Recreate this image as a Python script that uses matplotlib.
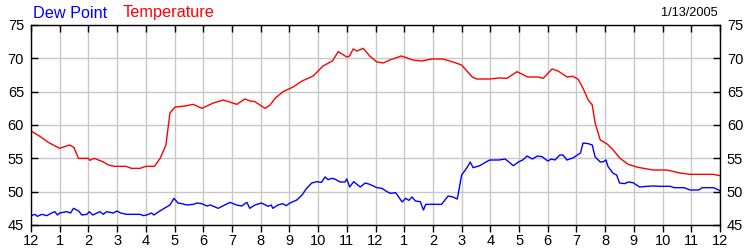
import matplotlib
matplotlib.use("Agg")
import matplotlib.pyplot as plt

# Hours since midnight (1/13/2005)
temp_hours = [0, 0.31, 0.6, 1.0, 1.2, 1.35, 1.5, 1.65, 2.0, 2.05, 2.2, 2.5, 2.7, 2.9, 3.3, 3.5, 3.8, 4.0, 4.3,
              4.5, 4.7, 4.84, 5.02, 5.37, 5.65, 5.95, 6.35, 6.7, 7.17, 7.45, 7.63, 7.8, 8.15, 8.33, 8.5,
              8.78, 9.13, 9.44, 9.83, 10.17, 10.5, 10.7, 11.0, 11.1, 11.22, 11.36, 11.57, 11.8, 12.05,
              12.27, 12.5, 12.9, 13.3, 13.6, 13.97, 14.35, 14.7, 15.0, 15.37, 15.53, 15.98, 16.3, 16.58,
              16.93, 17.3, 17.67, 17.84, 18.15, 18.36, 18.67, 18.88, 19.06, 19.23, 19.41, 19.55, 19.65,
              19.83, 20.07, 20.28, 20.52, 20.8, 21.1, 21.33, 21.67, 22.15, 22.6, 22.96, 23.76, 24.0]
temp_values = [59.1, 58.3, 57.4, 56.5, 56.8, 57.0, 56.6, 55.0, 55.0, 54.7, 55.0, 54.5, 54.0, 53.8, 53.8, 53.5,
               53.5, 53.8, 53.8, 55.0, 57.0, 61.8, 62.7, 62.85, 63.1, 62.5, 63.3, 63.75, 63.1, 63.9, 63.6,
               63.5, 62.5, 63.0, 64.0, 65.0, 65.7, 66.6, 67.35, 68.85, 69.6, 71.0, 70.2, 70.35, 71.4, 71.1,
               71.5, 70.35, 69.45, 69.3, 69.75, 70.35, 69.75, 69.6, 69.9, 69.9, 69.45, 69.0, 67.2, 66.9,
               66.9, 67.05, 67.0, 68.0, 67.2, 67.2, 67.0, 68.4, 68.1, 67.2, 67.3, 66.85, 65.5, 63.75, 63.0,
               60.3, 57.75, 57.15, 56.25, 55.0, 54.1, 53.7, 53.5, 53.25, 53.25, 52.8, 52.6, 52.6, 52.4]

dew_hours = [0, 0.14, 0.22, 0.38, 0.55, 0.72, 0.83, 0.92, 1.0, 1.24, 1.38, 1.48, 1.66, 1.77, 1.95, 2.03, 2.15,
             2.4, 2.52, 2.63, 2.87, 3.0, 3.12, 3.33, 3.8, 3.92, 4.03, 4.2, 4.28, 4.49, 4.66, 4.84, 4.98,
             5.12, 5.25, 5.43, 5.66, 5.78, 5.95, 6.13, 6.24, 6.36, 6.52, 6.7, 6.93, 7.16, 7.34, 7.52, 7.62,
             7.8, 8.03, 8.26, 8.37, 8.42, 8.6, 8.77, 8.89, 9.02, 9.26, 9.44, 9.6, 9.78, 9.95, 10.12, 10.24,
             10.35, 10.47, 10.58, 10.77, 10.94, 11.0, 11.1, 11.24, 11.47, 11.64, 11.8, 12.05, 12.22, 12.4,
             12.52, 12.7, 12.93, 13.05, 13.16, 13.27, 13.39, 13.56, 13.67, 13.75, 14.3, 14.53, 14.7,
             14.85, 15.0, 15.18, 15.3, 15.4, 15.63, 15.87, 15.98, 16.3, 16.52, 16.8, 17.0, 17.13, 17.28,
             17.47, 17.64, 17.8, 18.0, 18.13, 18.25, 18.42, 18.53, 18.67, 18.9, 19.03, 19.14, 19.23,
             19.41, 19.55, 19.65, 19.83, 19.94, 20.03, 20.1, 20.28, 20.4, 20.5, 20.68, 20.8, 20.97, 21.2,
             21.45, 21.67, 21.9, 22.27, 22.4, 22.75, 22.96, 23.26, 23.38, 23.78, 23.95, 24.0]
dew_values = [46.4, 46.6, 46.3, 46.6, 46.4, 46.8, 47.0, 46.5, 46.8, 47.0, 46.8, 47.5, 47.1, 46.5, 46.6, 47.0,
              46.5, 47.0, 46.6, 47.0, 46.8, 47.1, 46.8, 46.6, 46.6, 46.4, 46.5, 46.8, 46.5, 47.1, 47.55,
              48.0, 49.0, 48.3, 48.2, 48.0, 48.1, 48.3, 48.2, 47.85, 48.0, 47.8, 47.5, 47.9, 48.4, 48.0,
              47.85, 48.4, 47.5, 48.0, 48.3, 47.8, 48.0, 47.5, 48.0, 48.2, 47.9, 48.3, 48.75, 49.5, 50.5,
              51.3, 51.5, 51.4, 52.2, 51.8, 52.0, 51.9, 51.45, 51.45, 51.9, 50.7, 51.5, 50.7, 51.3, 51.1,
              50.6, 50.5, 50.0, 49.75, 49.85, 48.45, 49.0, 48.7, 49.2, 48.6, 48.5, 47.25, 48.1, 48.1,
              49.35, 49.2, 48.9, 52.5, 53.55, 54.45, 53.6, 53.9, 54.5, 54.75, 54.75, 54.9, 53.9, 54.5,
              54.75, 55.35, 54.9, 55.35, 55.25, 54.6, 54.9, 54.75, 55.5, 55.5, 54.75, 55.1, 55.5, 55.8,
              57.3, 57.2, 57.0, 55.2, 54.45, 54.5, 54.75, 53.75, 52.75, 52.5, 51.3, 51.2, 51.45, 51.35,
              50.7, 50.8, 50.85, 50.8, 50.8, 50.6, 50.6, 50.25, 50.25, 50.6, 50.6, 50.25, 50.1]

hour_labels = ["12", "1", "2", "3", "4", "5", "6", "7", "8", "9", "10", "11",
               "12", "1", "2", "3", "4", "5", "6", "7", "8", "9", "10", "11", "12"]
y_ticks = [45, 50, 55, 60, 65, 70, 75]

plt.rcParams['font.family'] = ['Liberation Sans', 'DejaVu Sans']

fig = plt.figure(figsize=(7.5, 2.5), dpi=100)
ax = fig.add_axes([31 / 750, 25 / 250, (720 - 31) / 750, 200 / 250])

ax.plot(temp_hours, temp_values, color='#ff0000', lw=1.0)
ax.plot(dew_hours, dew_values, color='#0000ff', lw=1.0)

ax.set_xlim(0, 24)
ax.set_ylim(45, 75)
ax.set_xticks(range(25))
ax.set_xticklabels(hour_labels)
ax.set_yticks(y_ticks)
ax.grid(True, color='#c8c8c8', lw=1.0)
ax.set_axisbelow(True)
for s in ax.spines.values():
    s.set_color('black')
    s.set_linewidth(1.0)

ax.tick_params(axis='x', bottom=True, top=False, direction='out', length=5, width=1,
               labelsize=10.5, pad=1.5, colors='black')
ax.tick_params(axis='y', left=True, right=True, labelleft=True, labelright=True,
               direction='in', length=5, width=1, labelsize=10.5, pad=5)

# inward ticks along the top edge
ax_top = ax.twiny()
ax_top.set_xlim(ax.get_xlim())
ax_top.set_xticks(range(25))
ax_top.tick_params(axis='x', top=True, bottom=False, labeltop=False, labelbottom=False,
                   direction='in', length=5, width=1, color='black')
for s in ax_top.spines.values():
    s.set_visible(False)

fig.text(33 / 750, 1 - 13 / 250, "Dew Point", color='#0000ff', fontsize=11.7, va='center', ha='left')
fig.text(123 / 750, 1 - 13 / 250, "Temperature", color='#ff0000', fontsize=11.7, va='center', ha='left')
fig.text(718 / 750, 1 - 13 / 250, "1/13/2005", color='black', fontsize=9.2, va='center', ha='right')

fig.savefig("out.png", dpi=100)
